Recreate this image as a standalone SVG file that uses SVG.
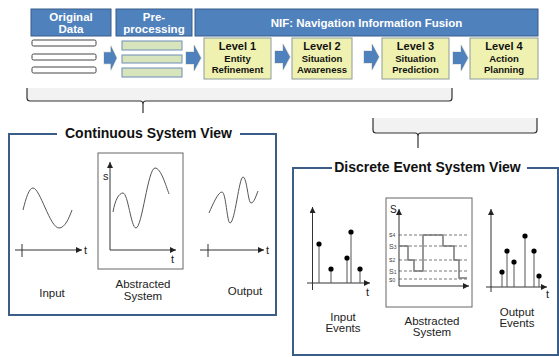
<svg xmlns="http://www.w3.org/2000/svg" width="559" height="357" viewBox="0 0 559 357">
<style>
text{font-family:"Liberation Sans",Arial,sans-serif;}
.hdr{fill:#4f81bd;stroke:#385d8a;stroke-width:1}
.ht{fill:#fff;font-weight:bold;font-size:11.5px;text-anchor:middle}
.lvl{fill:#eff1b0;stroke:#8c9b9b;stroke-width:1}
.lt1{font-weight:bold;font-size:11px;text-anchor:middle;fill:#111}
.lt2{font-weight:bold;font-size:9.5px;text-anchor:middle;fill:#111}
.bar{fill:#fff;stroke:#444;stroke-width:1}
.gbar{fill:#d8e4bc;stroke:#6f8db5;stroke-width:1}
.arw{fill:#4f81bd;stroke:#e4e0d4;stroke-width:1.5;paint-order:stroke}
.brace{fill:none;stroke:#333;stroke-width:1.2}
.bfill{fill:#f2f2f2;stroke:none}
.frame{fill:none;stroke:#3b5d87;stroke-width:2}
.title{font-weight:bold;font-size:14px;fill:#111;text-anchor:middle}
.box{fill:#fff;stroke:#666;stroke-width:1}
.ax{stroke:#333;stroke-width:1;fill:none}
.axa{stroke:#333;stroke-width:1;fill:none;marker-end:url(#ah)}
.wave{fill:none;stroke:#555;stroke-width:1}
.lbl{font-size:11.5px;fill:#222;text-anchor:middle}
.sm{font-size:11px;fill:#222}
.stem{stroke:#555;stroke-width:1}
.dash{stroke:#555;stroke-width:0.8;stroke-dasharray:3,2}
.step{fill:none;stroke:#777;stroke-width:1.5}
.tiny{font-size:7px;fill:#444}
</style>
<defs>
<marker id="ah" markerWidth="6" markerHeight="6" refX="6" refY="3" orient="auto" markerUnits="userSpaceOnUse">
<path d="M0,0 L6,3 L0,6 z" fill="#222"/>
</marker>
<path id="blk" d="M0,-6 H8 V-13 L15,0 L8,13 V6 H0 Z"/>
</defs>

<g id="original-data">
<rect class="hdr" x="31" y="9" width="80" height="27"/>
<text class="ht" x="71" y="20.5">Original</text>
<text class="ht" x="71" y="33">Data</text>
<rect class="bar" x="32" y="40" width="64" height="6" rx="1.5"/>
<rect class="bar" x="32" y="54" width="64" height="6" rx="1.5"/>
<rect class="bar" x="32" y="67" width="64" height="6" rx="1.5"/>
</g>

<g id="preprocessing">
<rect class="hdr" x="116" y="9" width="76" height="27"/>
<text class="ht" x="154" y="20.5">Pre-</text>
<text class="ht" x="154" y="33">processing</text>
<rect class="gbar" x="122" y="41" width="60" height="9"/>
<rect class="gbar" x="122" y="55" width="60" height="8"/>
<rect class="gbar" x="122" y="68" width="60" height="9"/>
</g>

<g id="nif">
<rect class="hdr" x="195" y="9" width="343" height="27"/>
<text class="ht" x="366.5" y="26.5">NIF: Navigation Information Fusion</text>
</g>

<g id="level1">
<rect class="lvl" x="204" y="38" width="67" height="41"/>
<text class="lt1" x="237.5" y="50">Level 1</text>
<text class="lt2" x="237.5" y="62">Entity</text>
<text class="lt2" x="237.5" y="73">Refinement</text>
</g>
<g id="level2">
<rect class="lvl" x="292" y="38" width="60" height="41"/>
<text class="lt1" x="322" y="50">Level 2</text>
<text class="lt2" x="322" y="62">Situation</text>
<text class="lt2" x="322" y="73">Awareness</text>
</g>
<g id="level3">
<rect class="lvl" x="382" y="38" width="67" height="41"/>
<text class="lt1" x="415.5" y="50">Level 3</text>
<text class="lt2" x="415.5" y="62">Situation</text>
<text class="lt2" x="415.5" y="73">Prediction</text>
</g>
<g id="level4">
<rect class="lvl" x="470" y="38" width="68" height="41"/>
<text class="lt1" x="504" y="50">Level 4</text>
<text class="lt2" x="504" y="62">Action</text>
<text class="lt2" x="504" y="73">Planning</text>
</g>

<g id="connectors">
<use href="#blk" class="arw" transform="translate(104,58) scale(0.85,0.95)"/>
<use href="#blk" class="arw" transform="translate(186,58)"/>
<use href="#blk" class="arw" transform="translate(275,57)"/>
<use href="#blk" class="arw" transform="translate(364,57)"/>
<use href="#blk" class="arw" transform="translate(453,58)"/>
<path class="bfill" d="M27,88 V98 Q27,101 30,101 H140 Q143,101 143,104 Q143,101 146,101 H449 Q452,101 452,98 V88 Z"/>
<path class="brace" d="M27,88 V98 Q27,101 30,101 H140 Q143,101 143,104 V113 M143,104 Q143,101 146,101 H449 Q452,101 452,98 V88"/>
<path class="bfill" d="M373,118 V130 Q373,133 376,133 H415 Q418,133 418,136 Q418,133 421,133 H534 Q537,133 537,130 V118 Z"/>
<path class="brace" d="M373,118 V130 Q373,133 376,133 H415 Q418,133 418,136 V148 M418,136 Q418,133 421,133 H534 Q537,133 537,130 V118"/>
</g>

<g id="continuous-view">
<path class="frame" d="M57,134 H9 V315 H276 V134 H240"/>
<text class="title" x="148.5" y="138">Continuous System View</text>
<path class="wave" d="M23,210 C26,198 29,188 33,188 C40,188 50,228 59,228 C65,228 69,218 72,210"/>
<line class="axa" x1="15" y1="250" x2="82" y2="250"/>
<line class="ax" x1="22" y1="244" x2="22" y2="257"/>
<text class="sm" x="84" y="254">t</text>
<text class="lbl" x="52" y="297">Input</text>
<rect class="box" x="98" y="153" width="85" height="116"/>
<line class="axa" x1="110" y1="250" x2="110" y2="162"/>
<line class="axa" x1="110" y1="250" x2="176" y2="250"/>
<text class="sm" x="103" y="180">s</text>
<text class="sm" x="171" y="263">t</text>
<path class="wave" d="M113,212 C115,200 119,193 123,193 C128,193 131,228 136,228 C142,228 148,168 155,168 C161,168 166,186 169,194"/>
<text class="lbl" x="143" y="288">Abstracted</text>
<text class="lbl" x="143" y="300">System</text>
<path class="wave" d="M209,213 C213,204 218,192 222,192 C226,192 227,223 230,223 C235,223 239,177 243,177 C247,177 248,203 251,203 C254,203 256,196 258,191"/>
<line class="axa" x1="200" y1="250" x2="264" y2="250"/>
<line class="ax" x1="208" y1="244" x2="208" y2="257"/>
<text class="sm" x="266" y="254">t</text>
<text class="lbl" x="245" y="295">Output</text>
</g>

<g id="discrete-view">
<path class="frame" d="M332,168 H293 V355 H558 V168 H527"/>
<text class="title" x="427.5" y="172">Discrete Event System View</text>
<line class="axa" x1="312.5" y1="290" x2="312.5" y2="207"/>
<line class="axa" x1="307" y1="283" x2="370" y2="283"/>
<text class="sm" x="366" y="296">t</text>
<g>
<line class="stem" x1="319" y1="283" x2="319" y2="244"/><circle cx="319" cy="244" r="2.6"/>
<line class="stem" x1="331" y1="283" x2="331" y2="269"/><circle cx="331" cy="269" r="2.6"/>
<line class="stem" x1="347" y1="283" x2="347" y2="258"/><circle cx="347" cy="258" r="2.6"/>
<line class="stem" x1="351" y1="283" x2="351" y2="232"/><circle cx="351" cy="232" r="2.6"/>
<line class="stem" x1="360" y1="283" x2="360" y2="269"/><circle cx="360" cy="269" r="2.6"/>
</g>
<text class="lbl" x="343" y="321">Input</text>
<text class="lbl" x="343" y="332">Events</text>
<rect class="box" x="386" y="198" width="86" height="109"/>
<line class="dash" x1="399" y1="235" x2="467" y2="235"/>
<line class="dash" x1="399" y1="246" x2="467" y2="246"/>
<line class="dash" x1="399" y1="260" x2="467" y2="260"/>
<line class="dash" x1="399" y1="271" x2="467" y2="271"/>
<line class="dash" x1="399" y1="279" x2="467" y2="279"/>
<line class="axa" x1="399" y1="286" x2="399" y2="209"/>
<line class="axa" x1="399" y1="286" x2="469" y2="286"/>
<text class="sm" x="390" y="213" style="font-size:10px">S</text>
<text class="tiny" x="389" y="237">s<tspan style="font-size:5px">4</tspan></text>
<text class="tiny" x="389" y="249">S<tspan style="font-size:5px">3</tspan></text>
<text class="tiny" x="389" y="262">s<tspan style="font-size:5px">2</tspan></text>
<text class="tiny" x="389" y="274">S<tspan style="font-size:5px">1</tspan></text>
<text class="tiny" x="389" y="282">s<tspan style="font-size:5px">0</tspan></text>
<path class="step" d="M399,246 H408 V260 H414 V271 H423 V235 H443 V246 H454 V260 H459 V278 H467"/>
<text class="lbl" x="432" y="325">Abstracted</text>
<text class="lbl" x="432" y="336">System</text>
<line class="axa" x1="491" y1="292" x2="491" y2="209"/>
<line class="axa" x1="486" y1="287" x2="547" y2="287"/>
<text class="sm" x="546" y="298">t</text>
<g>
<line class="stem" x1="502" y1="287" x2="502" y2="272"/><circle cx="502" cy="272" r="2.6"/>
<line class="stem" x1="507" y1="287" x2="507" y2="251"/><circle cx="507" cy="251" r="2.6"/>
<line class="stem" x1="514" y1="287" x2="514" y2="262"/><circle cx="514" cy="262" r="2.6"/>
<line class="stem" x1="525" y1="287" x2="525" y2="236"/><circle cx="525" cy="236" r="2.6"/>
<line class="stem" x1="534" y1="287" x2="534" y2="251"/><circle cx="534" cy="251" r="2.6"/>
<line class="stem" x1="539" y1="287" x2="539" y2="276"/><circle cx="539" cy="276" r="2.6"/>
</g>
<text class="lbl" x="517" y="316">Output</text>
<text class="lbl" x="517" y="327">Events</text>
</g>
</svg>
